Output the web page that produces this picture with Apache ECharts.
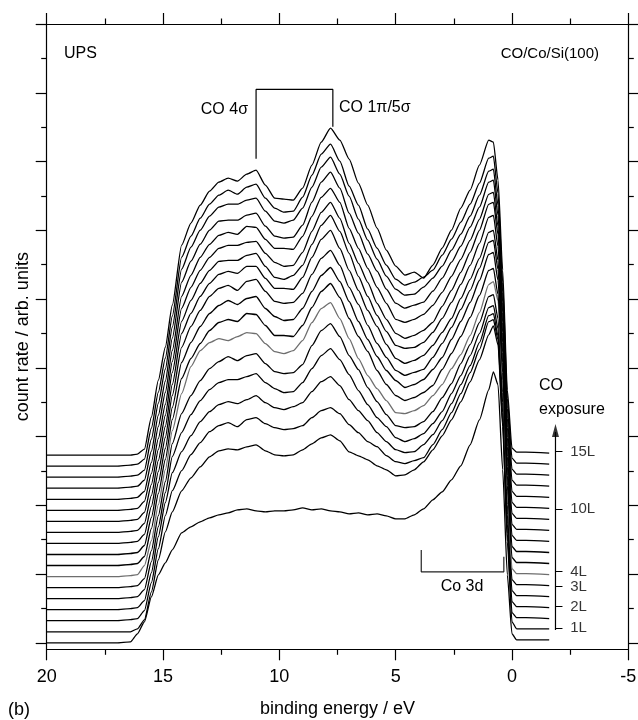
<!DOCTYPE html>
<html><head><meta charset="utf-8">
<script src="https://cdn.jsdelivr.net/npm/echarts@6/dist/echarts.min.js"></script>
<style>html,body{margin:0;padding:0;background:#fff}#c{width:638px;height:720px}</style>
</head><body><div id="c"></div>
<script>
// binding energy grid (eV)
const energies = [20,17,16.4,16.1,15.8,15.5,15.2,14.9,14.6,14.2,13.8,13.4,13.0,12.6,12.2,11.8,11.4,11.0,10.6,10.2,9.8,9.4,9.0,8.6,8.2,7.8,7.4,7.0,6.6,6.2,5.8,5.4,5.0,4.6,4.2,3.8,3.4,3.0,2.6,2.2,1.8,1.4,1.0,0.8,0.6,0.4,0.2,0.0,-0.2,-0.6,-1.6];
// count rate (arb. units) of each spectrum, bottom (clean) to top (15 L)
const curve00 = [0,0,1,9,21,46,68,80,93,110,116,121,125,128,130,133,134,132,131,132,132,133,135,133,134,132,131,129,130,128,129,127,124,124,128,134,143,151,163,177,198,223,253,271,258,173,68,9,3,3,3];
const curve01 = [0,0,0,3,12,40,72,100,120,141,154,165,175,181,183,182,185,187,181,177,176,177,182,188,194,197,191,180,176,172,166,162,156,157,162,170,182,196,212,230,250,272,297,306,287,205,90,10,3,3,3];
const curve02 = [0,0,1,2,10,38,72,105,130,150,166,178,189,195,198,194,201,203,197,193,191,192,195,203,210,213,207,196,188,179,174,165,159,157,160,163,176,191,208,227,248,271,299,301,281,198,87,8,3,3,2];
const curve03 = [0,0,1,2,9,37,73,107,137,158,174,188,198,205,208,206,210,214,207,202,200,203,207,218,228,233,224,210,199,189,177,168,160,157,158,165,175,189,206,225,244,267,294,296,274,197,86,8,3,3,2];
const curve04 = [0,0,1,2,9,37,72,106,142,166,184,198,209,216,219,219,222,225,216,210,206,207,216,230,243,250,239,224,208,194,181,172,161,157,160,165,175,187,205,223,243,265,291,293,270,196,84,8,3,3,2];
const curve05 = [0,0,1,2,9,37,72,106,144,174,192,207,219,226,231,227,232,234,224,216,214,215,223,242,257,264,251,232,218,200,186,173,162,160,161,166,176,190,204,224,243,265,291,293,269,195,83,8,3,3,2];
const curve06 = [0,0,1,2,11,36,72,107,146,183,210,226,234,238,236,240,244,243,233,225,223,226,236,254,268,274,258,238,218,201,188,176,164,163,166,171,181,192,208,222,241,264,292,295,276,196,86,8,3,3,2];
const curve07 = [0,0,1,2,9,37,72,106,146,187,207,222,235,243,246,244,252,251,240,230,230,229,240,258,274,282,268,247,229,214,195,181,170,165,168,173,180,196,212,229,248,270,295,297,271,193,80,8,3,3,2];
const curve08 = [0,0,1,2,9,37,72,106,147,192,212,228,241,249,254,250,256,258,246,238,234,235,246,263,279,287,273,253,233,215,198,184,174,167,170,175,185,197,215,233,252,274,300,302,274,192,79,8,3,3,2];
const curve09 = [0,0,1,2,9,37,72,106,148,196,217,233,247,255,258,253,262,264,252,242,240,241,250,269,285,293,278,256,239,218,200,186,173,168,171,174,186,200,216,234,253,275,301,303,274,191,77,8,3,3,2];
const curve10 = [0,0,1,2,9,37,72,106,148,199,219,236,249,258,261,259,266,266,254,244,244,243,255,275,293,302,284,262,242,222,206,188,174,169,172,177,187,200,214,234,253,274,300,302,272,190,76,8,3,3,2];
const curve11 = [0,0,1,2,9,37,72,106,149,200,221,238,251,260,261,261,266,268,255,244,242,246,256,277,296,306,290,268,245,225,206,190,176,173,174,179,189,203,219,237,256,278,304,306,275,189,75,8,3,3,2];
const curve12 = [0,0,1,2,9,37,72,106,149,202,223,240,253,262,265,265,268,269,257,248,244,245,258,279,298,308,292,267,247,228,207,191,177,172,175,180,188,204,220,238,258,280,306,308,276,188,73,8,3,3,2];
const curve13 = [0,0,1,2,8,37,73,107,149,203,224,242,255,264,267,265,273,272,260,251,251,250,263,283,302,311,297,271,251,231,212,196,180,177,180,185,194,207,223,240,259,280,305,307,273,187,72,8,3,3,2];
const curve14 = [0,0,1,2,8,37,73,107,150,206,227,244,258,267,268,268,273,275,262,252,250,251,263,286,306,316,300,275,255,234,217,199,185,180,183,186,197,210,226,242,261,281,306,308,273,186,70,8,3,3,2];
const curve15 = [0,0,1,2,7,38,74,108,150,208,230,247,261,270,273,273,277,279,266,256,254,257,269,290,310,320,303,281,258,237,218,201,188,182,183,190,199,211,227,243,261,282,306,308,272,185,69,8,3,3,2];
const curve16 = [0,0,1,2,7,38,74,108,150,209,230,248,262,271,276,272,279,282,268,258,254,255,269,291,312,322,305,280,261,237,218,201,187,181,184,189,196,211,227,244,262,283,308,310,273,184,68,8,3,3,2];
const curve17 = [0,0,0,1,6,38,75,108,150,210,232,250,264,273,277,274,281,285,270,257,256,255,267,290,313,327,315,296,272,250,227,205,189,180,183,177,190,207,225,247,265,290,315,313,275,185,65,7,3,3,2];
const curves = [curve00,curve01,curve02,curve03,curve04,curve05,curve06,curve07,curve08,curve09,curve10,curve11,curve12,curve13,curve14,curve15,curve16,curve17];
// vertical stacking offset of each spectrum (arb. units)
const curveOffsets = [0,11,22.1,33.1,44.2,55.2,66.2,77.3,88.3,99.4,110.4,121.4,132.5,143.5,154.6,165.6,176.6,187.7];
const grayCurve = 6;
// CO exposure scale: labels and their heights (arb. units)
const exposureLabels = ['1L','2L','3L','4L','10L','15L'];
const exposureY = [14.5, 36.1, 56.1, 71.1, 133.8, 191.1];
// x axis
const xMin = -5, xMax = 20, xStep = 5;
// y axis (arb. units), tick spacing
const yMin = -6.5, yMax = 618.8, yTickStep = 34.37;
// annotation brackets (eV, arb. units)
const co4Bracket = [[11.0,484],[11.0,553.4],[7.7,553.4],[7.7,516]];
const co3dBracket = [[3.9,92.7],[3.9,71],[0.35,71],[0.35,86]];
const arrowX = -1.87, arrowY = [12.7, 218.7], tickEndX = -2.17, labelX = -2.48;

const FONT = '"Liberation Sans", Arial, Helvetica, sans-serif';
const majorY = [], minorY = [];
for (let k = 0; k <= 18; k++) (k % 2 === 0 ? majorY : minorY).push(+(k * yTickStep).toFixed(2));

const blk = {color:'#000', width:1.2};
function xAx(pos, showLabel){
  return {type:'value', position:pos, min:xMin, max:xMax, interval:xStep, inverse:true,
    axisLine:{show:true, onZero:false, lineStyle:blk},
    axisTick:{show:true, inside:false, length:11, lineStyle:blk},
    minorTick:{show:true, splitNumber:2, length:5.5, lineStyle:blk},
    axisLabel:{show:showLabel, margin:19, color:'#000', fontSize:18, fontFamily:FONT},
    splitLine:{show:false}, minorSplitLine:{show:false}};
}
function yAx(pos, vals, len, line){
  return {type:'value', position:pos, min:yMin, max:yMax,
    axisLine:{show:line, onZero:false, lineStyle:blk},
    axisTick:{show:true, inside:false, length:len, customValues:vals, lineStyle:blk},
    axisLabel:{show:false}, splitLine:{show:false}};
}
const xBottom = xAx('bottom', true);
xBottom.name = 'binding energy / eV';
xBottom.nameLocation = 'middle';
xBottom.nameGap = 51;
xBottom.nameTextStyle = {color:'#000', fontSize:18, fontFamily:FONT};
const yLeft = yAx('left', majorY, 11, true);
yLeft.name = 'count rate / arb. units';
yLeft.nameLocation = 'middle';
yLeft.nameGap = 15;
yLeft.nameTextStyle = {color:'#000', fontSize:18, fontFamily:FONT};

const series = curves.map((c, i) => ({
  type:'line', xAxisIndex:0, yAxisIndex:0, symbol:'none', silent:true,
  smooth:0.2, smoothMonotone:'x',
  data: energies.map((e, k) => [e, c[k] + curveOffsets[i]]),
  lineStyle:{color: i === grayCurve ? '#6e6e6e' : '#000', width:1.3}
}));
series.push({type:'line', symbol:'none', silent:true, data:co4Bracket, lineStyle:{color:'#000', width:1.2}});
series.push({type:'line', symbol:'none', silent:true, data:co3dBracket, lineStyle:{color:'#222', width:1.2}});
series.push({type:'line', symbol:'none', silent:true, data:[[arrowX, arrowY[0]],[arrowX, arrowY[1]-8]], lineStyle:{color:'#000', width:1.2}});
series.push({type:'scatter', silent:true, symbol:'triangle', symbolSize:[7,13], data:[[arrowX, arrowY[1]-6.5]], itemStyle:{color:'#000'}});
series.push({type:'lines', coordinateSystem:'cartesian2d', silent:true,
  data: exposureY.map(y => ({coords:[[arrowX, y],[tickEndX, y]]})),
  lineStyle:{color:'#000', width:1.2, opacity:1, curveness:0}});
series.push({type:'scatter', silent:true, symbolSize:1, itemStyle:{color:'rgba(0,0,0,0)'},
  data: exposureLabels.map((t, k) => ({value:[labelX, exposureY[k]], name:t})),
  label:{show:true, position:'right', distance:0, formatter:'{b}', color:'#000', fontSize:15, fontFamily:FONT}});

function txt(x, y, text, size, align){
  return {type:'text', x:x, y:y, silent:true,
    style:{text:text, fill:'#000', font: size + 'px ' + FONT, textAlign:align, textVerticalAlign:'middle'}};
}

const chart = echarts.init(document.getElementById('c'), null, {renderer:'canvas'});
chart.setOption({
  animation:false,
  backgroundColor:'#fff',
  grid:{left:46.7, right:9.7, top:24, bottom:70.7, containLabel:false, outerBoundsMode:'none'},
  xAxis:[xBottom, xAx('top', false)],
  yAxis:[yLeft, yAx('left', minorY, 5.5, false), yAx('right', majorY, 11, true), yAx('right', minorY, 5.5, false)],
  series: series,
  graphic:[
    txt(64, 54, 'UPS', 16, 'left'),
    txt(599, 54, 'CO/Co/Si(100)', 15, 'right'),
    txt(248, 110, 'CO 4σ', 16, 'right'),
    txt(339, 108, 'CO 1π/5σ', 16, 'left'),
    txt(462, 587, 'Co 3d', 16, 'center'),
    txt(539, 386, 'CO', 16, 'left'),
    txt(539, 410, 'exposure', 16, 'left'),
    txt(8, 710, '(b)', 18, 'left')
  ]
});
</script></body></html>
